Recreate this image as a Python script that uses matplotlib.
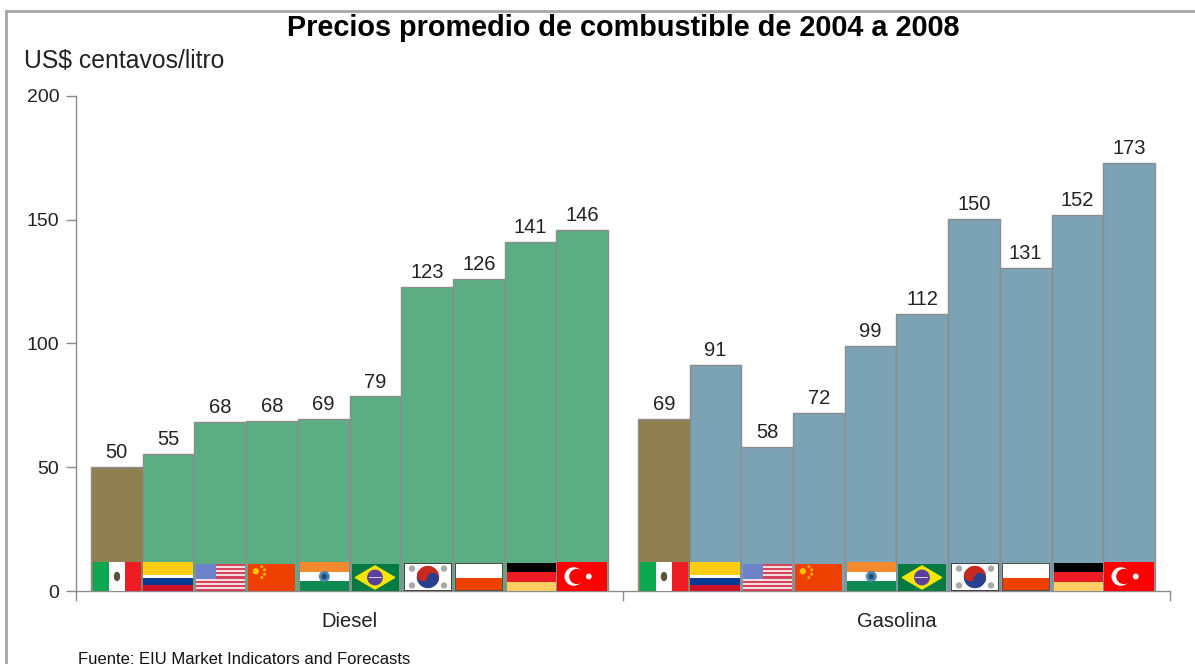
import matplotlib
matplotlib.use('Agg')
import matplotlib.pyplot as plt
from matplotlib.patches import Rectangle, Circle, Polygon, Wedge, Ellipse

plt.rcParams['font.family'] = ['Liberation Sans', 'DejaVu Sans']

grupos = ['Diesel', 'Gasolina']
paises = ['MEX', 'COL', 'USA', 'CHN', 'IND', 'BRA', 'KOR', 'POL', 'DEU', 'TUR']
paises_gasolina = ['MEX', 'COL', 'USA', 'CHN', 'IND', 'BRA', 'KOR', 'POL', 'DEU', 'TUR']
diesel = [50.2, 55.3, 68.3, 68.7, 69.4, 78.6, 122.8, 126, 141, 146]
gasolina = [69.4, 91.2, 58.2, 71.9, 99, 112, 150.3, 130.5, 152, 173]
diesel_txt = ['50', '55', '68', '68', '69', '79', '123', '126', '141', '146']
gasolina_txt = ['69', '91', '58', '72', '99', '112', '150', '131', '152', '173']
yticks = [0, 50, 100, 150, 200]

W, H = 1195, 664
VERDE, AZUL, CAFE = '#5BAD84', '#7BA3B5', '#8F8052'
GRIS = '#8C8C8C'

fig = plt.figure(figsize=(W / 100, H / 100), dpi=100)
ax = fig.add_axes([76 / W, 1 - 591 / H, 1094 / W, 495 / H])

# one slot = one bar, the axis is split in two groups like the excel chart
slot = 51.7
ancho_total = 1094 / slot
margen = 15 / slot
ax.set_xlim(0, ancho_total)
ax.set_ylim(0, 200)


# flags are drawn in pixel-like units: w wide, 29 high
def caja(a, x, y, w, h, c, **kw):
    a.add_patch(Rectangle((x, y), w, h, facecolor=c, edgecolor='none', **kw))


def franjas_h(a, w, h, colores):
    n = sum(f for f, c in colores)
    y = h
    for f, c in colores:
        alto = h * f / n
        y -= alto
        caja(a, 0, y, w, alto, c)


def flag_mex(a, w, h):
    caja(a, 0, 0, w / 3, h, '#0BA84F')
    caja(a, w / 3, 0, w / 3, h, 'white')
    caja(a, 2 * w / 3, 0, w / 3, h, '#EE1C25')
    a.add_patch(Ellipse((w / 2, h * 0.5), 5, 8, color='#5E5238'))


def flag_col(a, w, h):
    franjas_h(a, w, h, [(13, '#FFCC11'), (3, 'white'), (7, '#0B3A96'), (6, '#CE1126')])


def flag_usa(a, w, h):
    for i in range(7):
        caja(a, 0, h - (2 * i + 1) * h / 13, w, h / 13, '#D5445A')
        if i < 6:
            caja(a, 0, h - (2 * i + 2) * h / 13, w, h / 13, '#F3DDE0')
    caja(a, 0, h * 6 / 13, w * 0.4, h * 7 / 13, '#6D83C9')


def flag_chn(a, w, h):
    caja(a, 0, 0, w, h, '#EE4000')
    a.add_patch(Circle((w * 0.16, h * 0.73), 2.4, color='#FFC400'))
    for dx, dy in [(0.29, 0.9), (0.35, 0.78), (0.35, 0.62), (0.29, 0.5)]:
        a.add_patch(Circle((w * dx, h * dy), 0.8, color='#FFB000'))


def flag_ind(a, w, h):
    franjas_h(a, w, h, [(1, '#F28A2E'), (1, 'white'), (1, '#0E8A50')])
    a.add_patch(Circle((w / 2, h / 2), 4.8, color='#4C87AE'))
    a.add_patch(Circle((w / 2, h / 2), 2, color='#1D4E78'))


def flag_bra(a, w, h):
    caja(a, 0, 0, w, h, '#047A42')
    a.add_patch(Polygon([(w * 0.08, h / 2), (w / 2, h * 0.93), (w * 0.92, h / 2), (w / 2, h * 0.07)],
                        color='#F6E500'))
    a.add_patch(Circle((w / 2, h / 2), 7.2, color='#5B3F9E'))
    caja(a, w / 2 - 6.5, h / 2 - 0.3, 13, 1, '#D8D0E8')


def flag_kor(a, w, h):
    caja(a, 0, 0, w, h, '#444444')
    caja(a, 1.2, 1.2, w - 2.4, h - 2.4, 'white')
    cx, cy = w / 2, h / 2
    a.add_patch(Wedge((cx, cy), 10.5, -20, 160, color='#C8281E'))
    a.add_patch(Wedge((cx, cy), 10.5, 160, 340, color='#27408F'))
    a.add_patch(Circle((cx - 4.93, cy + 1.8), 5.25, color='#C8281E'))
    a.add_patch(Circle((cx + 4.93, cy - 1.8), 5.25, color='#27408F'))
    for dx, dy in [(0.17, 0.8), (0.83, 0.8), (0.17, 0.2), (0.83, 0.2)]:
        a.add_patch(Circle((w * dx, h * dy), 2.5, color='#A8A8A8'))


def flag_pol(a, w, h):
    caja(a, 0, 0, w, h, '#555044')
    caja(a, 1.2, h / 2 - 1, w - 2.4, h / 2, 'white')
    caja(a, 1.2, 1.2, w - 2.4, h / 2 - 2.2, '#EE4000')


def flag_deu(a, w, h):
    franjas_h(a, w, h, [(1, 'black'), (1, '#EE1C25'), (1, '#FFCF63')])


def flag_tur(a, w, h):
    caja(a, 0, 0, w, h, '#FF0000')
    a.add_patch(Circle((w * 0.33, h * 0.5), 8.6, color='white'))
    a.add_patch(Circle((w * 0.39, h * 0.5), 6.9, color='#FF0000'))
    a.add_patch(Circle((w * 0.63, h * 0.5), 2.2, color='white'))


# left/right inside the bar and height, in pixels
banderas = {
    'MEX': (flag_mex, 2, 50, 29),
    'COL': (flag_col, 0.5, 50, 29),
    'USA': (flag_usa, 2, 51, 27),
    'CHN': (flag_chn, 2.3, 48.6, 27),
    'IND': (flag_ind, 2, 51, 29),
    'BRA': (flag_bra, 2, 49, 27),
    'KOR': (flag_kor, 2.5, 51, 28),
    'POL': (flag_pol, 2, 50, 28),
    'DEU': (flag_deu, 2, 51, 28),
    'TUR': (flag_tur, 1, 51, 29),
}
px_y = 200 / 495


def dibuja_grupo(inicio, valores, textos, codigos, color):
    xs = [inicio + i + 0.5 for i in range(len(valores))]
    colores = [CAFE] + [color] * (len(valores) - 1)
    ax.bar(xs, valores, width=1, color=colores, edgecolor=GRIS, linewidth=1, zorder=2)
    for x, v, t, c in zip(xs, valores, textos, codigos):
        ax.annotate(t, (x, v), xytext=(0, 3.5), textcoords='offset points', ha='center', va='bottom',
                    fontsize=14.5, color='#222222')
        fn, l, r, alto = banderas[c]
        fa = ax.inset_axes([x - 0.5 + l / slot, 0, (r - l) / slot, alto * px_y],
                           transform=ax.transData, zorder=3)
        fa.set_xlim(0, r - l)
        fa.set_ylim(0, alto)
        fa.axis('off')
        fn(fa, r - l, alto)


dibuja_grupo(margen, diesel, diesel_txt, paises, VERDE)
dibuja_grupo(ancho_total - margen - len(gasolina), gasolina, gasolina_txt, paises_gasolina, AZUL)

for s in ['top', 'right']:
    ax.spines[s].set_visible(False)
for s in ['left', 'bottom']:
    ax.spines[s].set_color(GRIS)
    ax.spines[s].set_linewidth(1)

ax.set_yticks(yticks)
ax.tick_params(axis='y', length=7, width=1, color=GRIS, labelsize=14, labelcolor='#222222', pad=5)
ax.set_xticks([0, ancho_total / 2, ancho_total])
ax.set_xticklabels([])
ax.tick_params(axis='x', length=7, width=1, color=GRIS)

for i, g in enumerate(grupos):
    ax.text((i + 0.5) * ancho_total / 2, -12.5, g, ha='center', va='center', fontsize=14.5, color='#222222')

# marco del grafico (sin lado derecho ni inferior visibles)
fig.add_artist(plt.Line2D([6.5 / W, 6.5 / W], [0, 1 - 10.5 / H], color='#A6A6A6', lw=2))
fig.add_artist(plt.Line2D([6.5 / W, 1], [1 - 10.5 / H, 1 - 10.5 / H], color='#A6A6A6', lw=2))

fig.text(623 / W, 1 - 28 / H, 'Precios promedio de combustible de 2004 a 2008', ha='center', va='center',
         fontsize=20.8, fontweight='bold', color='black')
fig.text(24 / W, 1 - 61 / H, 'US$ centavos/litro', ha='left', va='center', fontsize=17.8, color='#222222')
fig.text(78 / W, 1 - 660 / H, 'Fuente: EIU Market Indicators and Forecasts', ha='left', va='center',
         fontsize=12, color='#111111')

fig.savefig('out.png', dpi=100)
